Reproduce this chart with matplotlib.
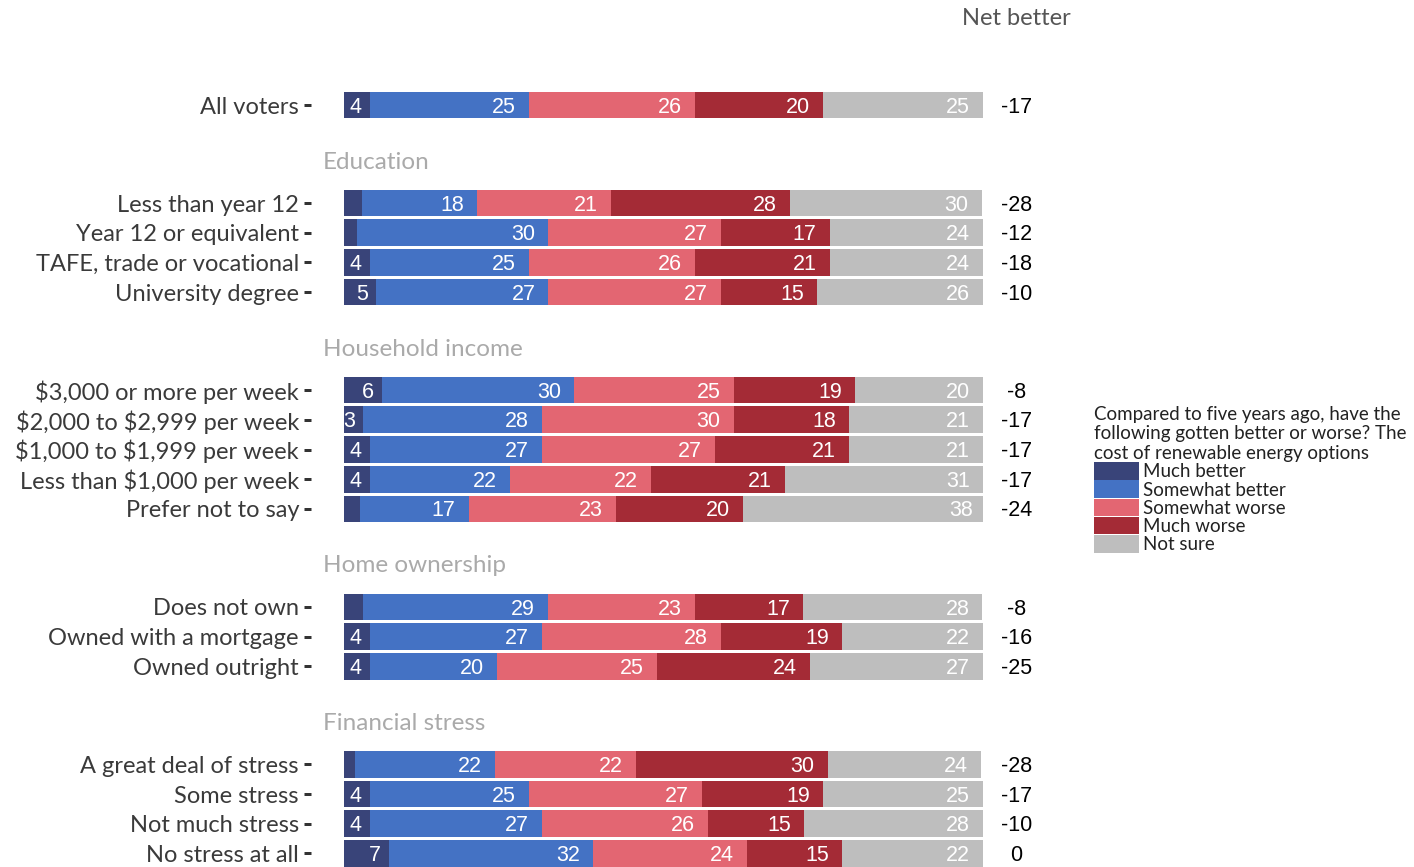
import matplotlib
matplotlib.use("Agg")
import matplotlib.pyplot as plt
import numpy as np

# ---------------- data ----------------
categories = ["All voters",
              "Less than year 12", "Year 12 or equivalent", "TAFE, trade or vocational", "University degree",
              "\\$3,000 or more per week", "\\$2,000 to \\$2,999 per week", "\\$1,000 to \\$1,999 per week",
              "Less than \\$1,000 per week", "Prefer not to say",
              "Does not own", "Owned with a mortgage", "Owned outright",
              "A great deal of stress", "Some stress", "Not much stress", "No stress at all"]
groups = [None, "Education", "Household income", "Home ownership", "Financial stress"]
group_sizes = [1, 4, 5, 3, 4]

much_better     = [4, 2.8, 2.0, 4, 5, 6, 3, 4, 4, 2.5, 2.9, 4, 4, 1.7, 4, 4, 7]
somewhat_better = [25, 18, 30, 25, 27, 30, 28, 27, 22, 17, 29, 27, 20, 22, 25, 27, 32]
somewhat_worse  = [26, 21, 27, 26, 27, 25, 30, 27, 22, 23, 23, 28, 25, 22, 27, 26, 24]
much_worse      = [20, 28, 17, 21, 15, 19, 18, 21, 21, 20, 17, 19, 24, 30, 19, 15, 15]
not_sure        = [25, 30, 24, 24, 26, 20, 21, 21, 31, 38, 28, 22, 27, 24, 25, 28, 22]
net_better      = [-17, -28, -12, -18, -10, -8, -17, -17, -17, -24, -8, -16, -25, -28, -17, -10, 0]

series_names = ["Much better", "Somewhat better", "Somewhat worse", "Much worse", "Not sure"]
series = [much_better, somewhat_better, somewhat_worse, much_worse, not_sure]
colors = ["#394479", "#4472c4", "#e36672", "#a42b36", "#bebebe"]

legend_title = ("Compared to five years ago, have the\n"
                "following gotten better or worse? The\n"
                "cost of renewable energy options")

# ---------------- layout ----------------
W, H = 1414, 867
DPI = 100
PT = 72 / DPI   # points per pixel
fig = plt.figure(figsize=(W / DPI, H / DPI), dpi=DPI)
fig.patch.set_facecolor("white")

x0_px, x1_px = 344, 983
ax = fig.add_axes([x0_px / W, 0, (x1_px - x0_px) / W, 1])

row = 29.7           # px per row
first_px = 105       # centre of first bar
group_gap = 3.3      # rows from last bar of a group to first of next
header_off = 1.38    # header above first bar

ypos = []
headers = []
y = 0.0
for gi, n in enumerate(group_sizes):
    if gi > 0:
        y += group_gap
        headers.append((groups[gi], y - header_off))
    for k in range(n):
        ypos.append(y + k)
    y += n - 1
ypos = np.array(ypos)

ax.set_xlim(0, 100)
ax.set_ylim((H - first_px) / row, -first_px / row)
for s in ["left", "right", "top", "bottom"]:
    ax.spines[s].set_visible(False)
ax.spines["left"].set_position(("outward", 33 * PT))

label_font = "Lato"
num_font = "Liberation Sans"

left = np.zeros(len(categories))
for name, vals, col in zip(series_names, series, colors):
    vals = np.array(vals, dtype=float)
    ax.barh(ypos, vals, left=left, height=0.9, color=col, label=name, linewidth=0)
    for yy, l, v in zip(ypos, left, vals):
        if v >= 3:
            txt = f"{int(round(v))}"
            off = 1.3 + 0.75 * (len(txt) - 1)
            ax.text(l + v - off, yy + 0.07, txt, ha="right", va="center",
                    color="white", fontsize=15.5, family=num_font)
    left += vals

# net better column
for yy, nb in zip(ypos, net_better):
    ax.text(105.2, yy + 0.07, f"{nb}", ha="center", va="center", fontsize=15.5,
            family=num_font, color="black", clip_on=False)
ax.text(105.2, (18 - first_px) / row, "Net better", ha="center", va="center",
        fontsize=17, family=label_font, color="#555555", clip_on=False)

# group headers
for name, hy in headers:
    ax.text(-3.3, hy, name, ha="left", va="center", fontsize=17.5,
            family=label_font, color="#aaaaaa", clip_on=False)

# y ticks / labels
ax.set_yticks(ypos)
ax.set_yticklabels(categories, fontsize=17, family=label_font, color="#3a3a3a")
ax.tick_params(axis="y", length=7 * PT, width=3 * PT, color="#333333", pad=5 * PT)
ax.set_xticks([])

# legend
handles, labels = ax.get_legend_handles_labels()
leg = fig.legend(handles, labels, title=legend_title, loc="upper left",
                 bbox_to_anchor=(1088 / W, 1 - 400 / H), frameon=False,
                 prop={"family": label_font, "size": 13.5},
                 title_fontproperties={"family": label_font, "size": 13.5},
                 handlelength=2.4, handleheight=1.07, labelspacing=0.0,
                 handletextpad=0.25, borderaxespad=0, borderpad=0.3)
leg._legend_box.align = "left"
for t in leg.get_texts():
    t.set_color("#222222")
leg.get_title().set_color("#222222")

fig.savefig("out.png", dpi=DPI, facecolor="white")
